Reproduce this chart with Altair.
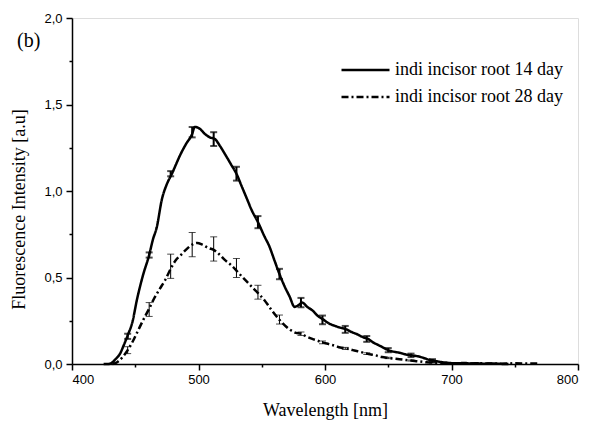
import altair as alt
import pandas as pd

# ---------------- data ----------------
label14 = "indi incisor root 14 day"
label28 = "indi incisor root 28 day"
panel_label = "(b)"

wl14 = [425, 428, 431, 434, 438, 441, 444, 448, 451, 456, 461, 464, 467, 471, 475, 479, 482, 485,
        490, 495, 497, 501, 505, 509, 513, 517, 522, 526, 530, 534, 538, 542, 547, 552, 556, 560,
        564, 568, 572, 576, 579, 582, 586, 590, 594, 599, 603, 608, 612, 617, 621, 626, 630, 634,
        638, 642, 646, 650, 655, 659, 664, 668, 673, 678, 682, 686, 691, 696, 700, 705, 710, 715,
        720, 726, 732, 738, 745]
int14 = [0.0, 0.0, 0.005, 0.025, 0.06, 0.11, 0.165, 0.25, 0.36, 0.51, 0.63, 0.72, 0.79, 0.95, 1.04, 1.10, 1.15, 1.20,
         1.27, 1.33, 1.37, 1.36, 1.33, 1.31, 1.30, 1.26, 1.20, 1.15, 1.10, 1.03, 0.96, 0.89, 0.82, 0.74, 0.68, 0.60,
         0.52, 0.45, 0.39, 0.33, 0.34, 0.355, 0.33, 0.31, 0.28, 0.255, 0.235, 0.22, 0.21, 0.20, 0.185, 0.17, 0.155, 0.145,
         0.125, 0.11, 0.095, 0.08, 0.07, 0.065, 0.055, 0.05, 0.045, 0.035, 0.025, 0.02, 0.012, 0.008, 0.005, 0.004, 0.006, 0.003,
         0.004, 0.002, 0.003, 0.001, 0.0]

wl28 = [432, 436, 440, 444, 448, 452, 456, 461, 465, 469, 474, 478, 482, 486, 490, 495, 499, 503,
        508, 512, 517, 521, 526, 530, 535, 539, 543, 547, 552, 556, 560, 564, 568, 572, 577, 581,
        585, 590, 594, 598, 603, 608, 612, 617, 622, 628, 633, 640, 645, 650, 656, 662, 668, 675,
        680, 685, 690, 700, 710, 720, 730, 740, 750, 760, 770]
int28 = [0.0, 0.012, 0.04, 0.08, 0.13, 0.19, 0.25, 0.32, 0.38, 0.43, 0.49, 0.55, 0.60, 0.63, 0.66, 0.69, 0.70, 0.69,
         0.67, 0.66, 0.63, 0.60, 0.57, 0.54, 0.50, 0.47, 0.44, 0.41, 0.37, 0.33, 0.29, 0.255, 0.225, 0.20, 0.18, 0.175,
         0.16, 0.145, 0.135, 0.125, 0.115, 0.105, 0.095, 0.09, 0.08, 0.07, 0.06, 0.05, 0.04, 0.035, 0.03, 0.025, 0.02, 0.015,
         0.01, 0.008, 0.005, 0.004, 0.003, 0.004, 0.003, 0.002, 0.004, 0.003, 0.002]

err_wl14 = [444, 461, 478, 495, 512, 530, 547, 564, 581, 598, 616, 633, 650, 668, 685]
err_mean14 = [0.16, 0.63, 1.10, 1.34, 1.30, 1.10, 0.82, 0.52, 0.355, 0.255, 0.20, 0.145, 0.08, 0.05, 0.02]
err_sd14 = [0.015, 0.015, 0.015, 0.03, 0.04, 0.04, 0.035, 0.03, 0.027, 0.025, 0.02, 0.017, 0.012, 0.01, 0.008]

err_wl28 = [444, 461, 478, 495, 512, 530, 547, 564, 581, 598, 616, 633, 650, 668, 685]
err_mean28 = [0.08, 0.315, 0.565, 0.69, 0.665, 0.555, 0.415, 0.257, 0.175, 0.125, 0.09, 0.06, 0.035, 0.02, 0.008]
err_sd28 = [0.02, 0.04, 0.07, 0.07, 0.07, 0.055, 0.04, 0.026, 0.01, 0.008, 0.006, 0.005, 0.004, 0.003, 0.002]

x_ticks = [400, 450, 500, 550, 600, 650, 700, 750, 800]
y_ticks = [0.0, 0.25, 0.5, 0.75, 1.0, 1.25, 1.5, 1.75, 2.0]

# ---------------- tables ----------------
lines_df = pd.concat([
    pd.DataFrame({"wl": wl14, "val": int14, "series": label14}),
    pd.DataFrame({"wl": wl28, "val": int28, "series": label28}),
])

def err_df(wl, mean, sd):
    return pd.DataFrame({"wl": wl,
                         "lo": [m - s for m, s in zip(mean, sd)],
                         "hi": [m + s for m, s in zip(mean, sd)]})

e14 = err_df(err_wl14, err_mean14, err_sd14)
e28 = err_df(err_wl28, err_mean28, err_sd28)

serif = "Liberation Serif"
sans = "Liberation Sans"

x_scale = alt.Scale(domain=[400, 800], nice=False, zero=False, padding=0)
y_scale = alt.Scale(domain=[0, 2.0], nice=False, padding=0)

x_axis = alt.Axis(
    title="Wavelength [nm]", values=x_ticks,
    labelExpr="datum.value % 100 == 0 ? format(datum.value, 'd') : ''",
    tickSize={"condition": {"test": "datum.value % 100 != 0", "value": 3}, "value": 6},
    grid=False, labelFont=sans, labelFontSize=13, labelColor="black", labelPadding=3,
    titleFont=serif, titleFontSize=18, titleFontWeight="normal", titleColor="black",
    titleBaseline="alphabetic", titleY=51,
    domainColor="black", domainWidth=1.5, tickColor="black", tickWidth=1.5,
)
y_axis = alt.Axis(
    title="Fluorescence Intensity [a.u]", values=y_ticks,
    labelExpr="datum.value % 0.5 == 0 ? replace(format(datum.value, '.1f'), '.', ',') : ''",
    tickSize={"condition": {"test": "datum.value % 0.5 != 0", "value": 3}, "value": 6},
    grid=False, labelFont=sans, labelFontSize=13, labelColor="black", labelPadding=4,
    titleFont=serif, titleFontSize=18, titleFontWeight="normal", titleColor="black",
    titleBaseline="middle", titleAlign="center", titleX=-53, titleY=191,
    domainColor="black", domainWidth=1.5, tickColor="black", tickWidth=1.5,
)

lines = alt.Chart(lines_df).mark_line(color="black", strokeWidth=2.5, interpolate="monotone").encode(
    x=alt.X("wl:Q", scale=x_scale, axis=x_axis),
    y=alt.Y("val:Q", scale=y_scale, axis=y_axis),
    strokeDash=alt.StrokeDash(
        "series:N",
        scale=alt.Scale(domain=[label14, label28], range=[[1, 0], [7, 3, 2, 3]]),
        legend=alt.Legend(
            title=None, orient="none", legendX=268, legendY=42, padding=0,
            labelFont=serif, labelFontSize=18, labelColor="black", labelLimit=0,
            symbolType="stroke", symbolSize=2304, symbolStrokeWidth=2.5,
            symbolStrokeColor="black", labelOffset=4, clipHeight=20, rowPadding=7,
        ),
    ),
    detail="series:N",
)

def err_layers(df, width):
    base = alt.Chart(df)
    rule = base.mark_rule(color="black", strokeWidth=width).encode(
        x=alt.X("wl:Q", scale=x_scale), y=alt.Y("lo:Q", scale=y_scale), y2="hi:Q")
    t_lo = base.mark_tick(color="black", orient="horizontal", size=7, thickness=width).encode(
        x=alt.X("wl:Q", scale=x_scale), y=alt.Y("lo:Q", scale=y_scale))
    t_hi = base.mark_tick(color="black", orient="horizontal", size=7, thickness=width).encode(
        x=alt.X("wl:Q", scale=x_scale), y=alt.Y("hi:Q", scale=y_scale))
    return [rule, t_lo, t_hi]

panel = alt.Chart(pd.DataFrame({"t": [panel_label]})).mark_text(
    font=serif, fontSize=20, align="left", baseline="middle", color="black"
).encode(x=alt.value(-55), y=alt.value(23), text="t:N")

chart = alt.layer(
    lines, *err_layers(e14, 2), *err_layers(e28, 1), panel
).properties(
    width=506, height=346,
    autosize=alt.AutoSizeParams(type="none"),
    padding={"left": 72, "top": 18, "right": 23, "bottom": 61},
).configure_view(stroke=None).configure(background="white")

chart.save("out.html", embed_options={"renderer": "svg", "actions": False})
